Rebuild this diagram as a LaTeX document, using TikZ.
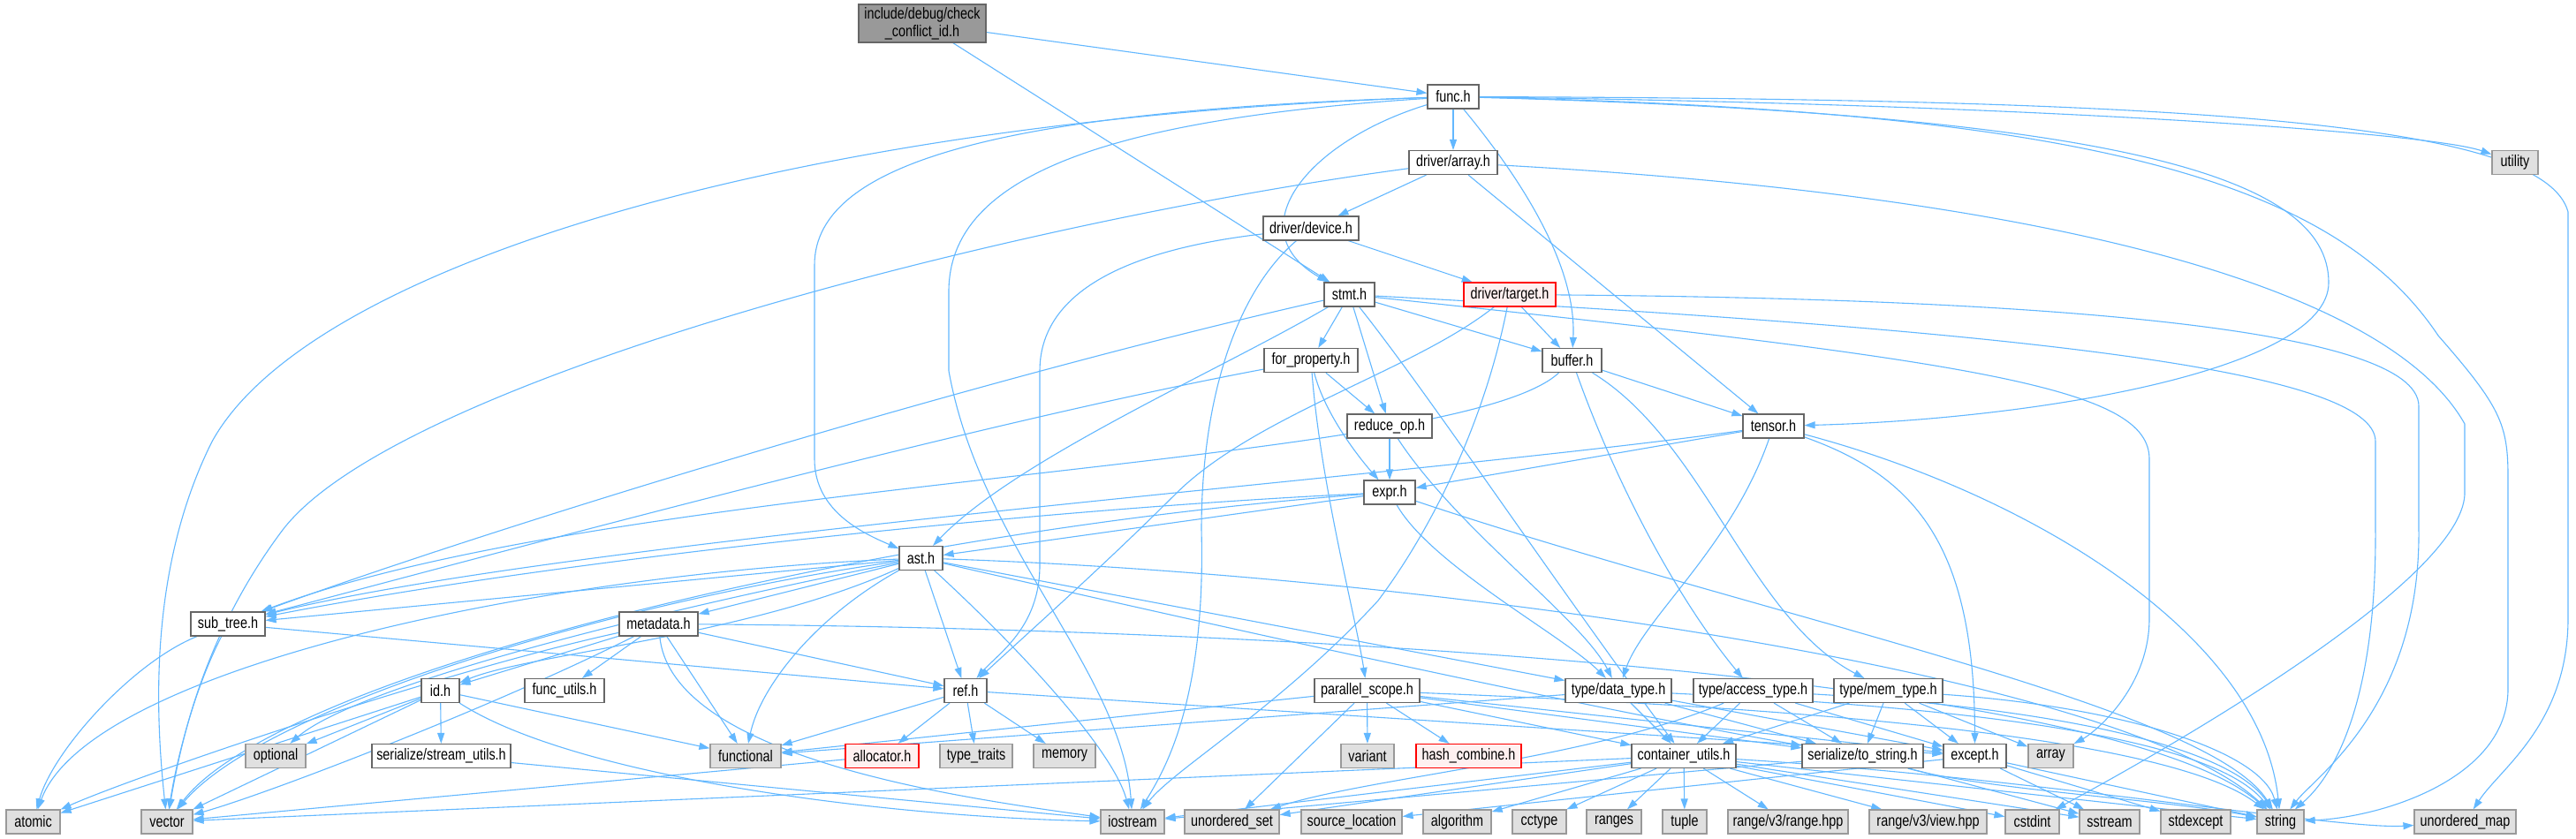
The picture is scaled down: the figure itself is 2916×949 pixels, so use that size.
\documentclass[tikz,border=0pt]{standalone}
\usepackage{fontspec}
\setmainfont{Liberation Sans}[FakeStretch=0.8]
\usetikzlibrary{arrows.meta}
\definecolor{edgec}{HTML}{63B8FF}
\definecolor{projc}{HTML}{666666}
\definecolor{sysc}{HTML}{999999}
\definecolor{sysfill}{HTML}{E0E0E0}
\definecolor{truncfill}{HTML}{FFF0F0}
\definecolor{rootfill}{HTML}{999999}
\pgfdeclarelayer{bg}
\pgfsetlayers{bg,main}
\begin{document}
\begin{tikzpicture}[x=0.5pt,y=-0.5pt,
 box/.style={draw, rectangle, line width=0.6pt, inner sep=0pt, minimum height=13.5pt, font=\fontsize{9}{10}\selectfont, text=black},
 proj/.style={box, draw=projc, fill=white},
 sys/.style={box, draw=sysc, fill=sysfill},
 trunc/.style={box, draw=red, fill=truncfill},
 root/.style={box, draw=projc, fill=rootfill, minimum height=21.5pt, align=center},
 dep/.style={draw=edgec, line width=0.55pt, -{Triangle[length=6pt,width=4pt]}}]
\useasboundingbox (0,0) rectangle (2916,949);
\begin{pgfonlayer}{bg}
\fill[white] (0,0) rectangle (2916,949);
\end{pgfonlayer}
% nodes
\node[root, minimum width=72pt] (ccid) at (1044,26.5) {include/debug/check\\\_conflict\_id.h};
\node[proj, minimum width=29pt] (func) at (1645,109.5) {func.h};
\node[proj, minimum width=50pt] (array) at (1645,184) {driver/array.h};
\node[sys, minimum width=26pt] (utility) at (2847,184) {utility};
\node[proj, minimum width=54pt] (device) at (1484,258.5) {driver/device.h};
\node[proj, minimum width=28.5pt] (stmt) at (1527.5,333.5) {stmt.h};
\node[trunc, minimum width=52pt] (target) at (1709,333.5) {driver/target.h};
\node[proj, minimum width=53pt] (forp) at (1484,408) {for\_property.h};
\node[proj, minimum width=33.5pt] (buffer) at (1779.5,408) {buffer.h};
\node[proj, minimum width=48pt] (reduce) at (1573,482.5) {reduce\_op.h};
\node[proj, minimum width=34.5pt] (tensor) at (2007.5,482.5) {tensor.h};
\node[proj, minimum width=29pt] (expr) at (1573,557.5) {expr.h};
\node[proj, minimum width=24.5pt] (ast) at (1042.5,632) {ast.h};
\node[proj, minimum width=42pt] (subtree) at (258,706.5) {sub\_tree.h};
\node[proj, minimum width=44.5pt] (metadata) at (745.5,706.5) {metadata.h};
\node[proj, minimum width=21.5pt] (id) at (498.5,782) {id.h};
\node[proj, minimum width=45pt] (funcutils) at (639,782) {func\_utils.h};
\node[proj, minimum width=24pt] (ref) at (1093,782) {ref.h};
\node[proj, minimum width=59.5pt] (pscope) at (1547.5,782) {parallel\_scope.h};
\node[proj, minimum width=60pt] (dtype) at (1832,782) {type/data\_type.h};
\node[proj, minimum width=67.5pt] (atype) at (1984.5,782) {type/access\_type.h};
\node[proj, minimum width=61.5pt] (mtype) at (2137.5,782) {type/mem\_type.h};
\node[sys, minimum width=34pt] (optional) at (312,856) {optional};
\node[proj, minimum width=78.5pt] (streamutils) at (499.5,856) {serialize/stream\_utils.h};
\node[sys, minimum width=40pt] (functional) at (844,856) {functional};
\node[trunc, minimum width=41.5pt] (allocator) at (998.5,856) {allocator.h};
\node[sys, minimum width=41pt] (typetraits) at (1105,856) {type\_traits};
\node[sys, minimum width=35pt] (memory) at (1205,856) {memory};
\node[sys, minimum width=30pt] (variant) at (1548,856) {variant};
\node[trunc, minimum width=59.5pt] (hashcombine) at (1662.5,856) {hash\_combine.h};
\node[proj, minimum width=59pt] (cutils) at (1906,856) {container\_utils.h};
\node[proj, minimum width=68.5pt] (tostring) at (2108.5,856) {serialize/to\_string.h};
\node[proj, minimum width=35.5pt] (except) at (2235.5,856) {except.h};
\node[sys, minimum width=25.5pt] (arraystd) at (2321.5,856) {array};
\node[sys, minimum width=30.5pt] (atomic) at (37.5,930.5) {atomic};
\node[sys, minimum width=29pt] (vector) at (189,930.5) {vector};
\node[sys, minimum width=36pt] (iostream) at (1282,930.5) {iostream};
\node[sys, minimum width=53.5pt] (uset) at (1394.5,930.5) {unordered\_set};
\node[sys, minimum width=57pt] (srcloc) at (1530,930.5) {source\_location};
\node[sys, minimum width=38.5pt] (algorithm) at (1649.5,930.5) {algorithm};
\node[sys, minimum width=30.5pt] (cctype) at (1742.5,930.5) {cctype};
\node[sys, minimum width=31pt] (ranges) at (1827,930.5) {ranges};
\node[sys, minimum width=25pt] (tuple) at (1907,930.5) {tuple};
\node[sys, minimum width=68pt] (rangehpp) at (2024,930.5) {range/v3/range.hpp};
\node[sys, minimum width=66.5pt] (viewhpp) at (2182.5,930.5) {range/v3/view.hpp};
\node[sys, minimum width=30.5pt] (cstdint) at (2300.5,930.5) {cstdint};
\node[sys, minimum width=34pt] (sstream) at (2388,930.5) {sstream};
\node[sys, minimum width=39.5pt] (stdexcept) at (2485.5,930.5) {stdexcept};
\node[sys, minimum width=26.5pt] (string) at (2581.5,930.5) {string};
\node[sys, minimum width=57.5pt] (umap) at (2790.5,930.5) {unordered\_map};
% edges
\begin{pgfonlayer}{bg}
\draw[dep] (ccid) -- (func);
\draw[dep] (ccid) -- (stmt);
% func
\draw[dep] (func) -- (array);
\draw[dep] (func) .. controls (2300,118) and (2750,150) .. (utility);
\draw[dep] (func) .. controls (2500,112) and (2880,140) .. (2907,240) -- (2907,700) .. controls (2907,820) and (2830,870) .. (umap);
\draw[dep] (func) .. controls (2350,125) and (2640,200) .. (2760,380) .. controls (2830,460) and (2839,480) .. (2839,540) -- (2839,780) .. controls (2839,880) and (2700,925) .. (string);
\draw[dep] (func) .. controls (2400,130) and (2636,200) .. (2636,320) .. controls (2636,420) and (2300,475) .. (tensor);
\draw[dep] (func) .. controls (1720,200) and (1785,300) .. (buffer);
\draw[dep] (func) .. controls (1480,160) and (1400,260) .. (stmt);
\draw[dep] (func) .. controls (1150,125) and (922,180) .. (922,300) -- (922,520) .. controls (922,580) and (980,605) .. (ast);
\draw[dep] (func) .. controls (1250,135) and (1074,200) .. (1074,330) -- (1074,420) .. controls (1110,620) and (1270,760) .. (iostream);
\draw[dep] (func) .. controls (900,135) and (350,300) .. (240,500) .. controls (170,640) and (175,800) .. (vector);
% array
\draw[dep] (array) -- (device);
\draw[dep] (array) -- (tensor);
\draw[dep] (array) .. controls (1150,250) and (450,430) .. (320,600) .. controls (230,720) and (205,840) .. (vector);
\draw[dep] (array) .. controls (2300,220) and (2700,320) .. (2790,480) -- (2790,560) .. controls (2785,660) and (2450,850) .. (cstdint);
% device
\draw[dep] (device) -- (target);
\draw[dep] (device) .. controls (1300,280) and (1177,320) .. (1177,420) -- (1177,640) .. controls (1177,710) and (1130,740) .. (ref);
\draw[dep] (device) .. controls (1400,330) and (1360,450) .. (1360,600) .. controls (1365,790) and (1320,870) .. (iostream);
% target
\draw[dep] (target) -- (buffer);
\draw[dep] (target) .. controls (1600,420) and (1420,470) .. (1330,560) .. controls (1250,640) and (1160,720) .. (ref);
\draw[dep] (target) .. controls (2300,338) and (2738,370) .. (2738,460) -- (2738,600) .. controls (2740,800) and (2620,880) .. (string);
\draw[dep] (target) .. controls (1680,480) and (1620,600) .. (1560,680) .. controls (1450,800) and (1330,870) .. (iostream);
% stmt
\draw[dep] (stmt) -- (forp);
\draw[dep] (stmt) -- (reduce);
\draw[dep] (stmt) -- (buffer);
\draw[dep] (stmt) .. controls (1380,420) and (1150,520) .. (ast);
\draw[dep] (stmt) .. controls (1100,430) and (550,600) .. (subtree);
\draw[dep] (stmt) .. controls (2300,375) and (2689,420) .. (2689,500) -- (2689,600) .. controls (2690,800) and (2640,880) .. (string);
\draw[dep] (stmt) .. controls (2250,410) and (2433,440) .. (2433,520) -- (2433,700) .. controls (2433,780) and (2370,830) .. (arraystd);
\draw[dep] (stmt) .. controls (1620,450) and (1760,660) .. (cutils);
% for_property
\draw[dep] (forp) -- (reduce);
\draw[dep] (forp) .. controls (1500,470) and (1540,520) .. (expr);
\draw[dep] (forp) .. controls (1495,550) and (1535,700) .. (pscope);
\draw[dep] (forp) .. controls (1100,480) and (550,630) .. (subtree);
% buffer
\draw[dep] (buffer) -- (tensor);
\draw[dep] (buffer) .. controls (1830,550) and (1900,680) .. (atype);
\draw[dep] (buffer) .. controls (1930,500) and (1980,700) .. (mtype);
\draw[dep] (buffer) .. controls (1650,530) and (700,540) .. (subtree);
% reduce_op
\draw[dep] (reduce) -- (expr);
\draw[dep] (reduce) .. controls (1650,600) and (1790,700) .. (dtype);
% tensor
\draw[dep] (tensor) -- (expr);
\draw[dep] (tensor) .. controls (1600,540) and (650,610) .. (subtree);
\draw[dep] (tensor) .. controls (1960,620) and (1860,700) .. (dtype);
\draw[dep] (tensor) .. controls (2170,540) and (2235,620) .. (except);
\draw[dep] (tensor) .. controls (2300,560) and (2560,720) .. (string);
% expr
\draw[dep] (expr) -- (ast);
\draw[dep] (expr) .. controls (1200,575) and (650,630) .. (subtree);
\draw[dep] (expr) .. controls (1000,600) and (320,760) .. (vector);
\draw[dep] (expr) .. controls (1620,640) and (1770,720) .. (dtype);
\draw[dep] (expr) .. controls (2000,700) and (2500,800) .. (string);
% ast
\draw[dep] (ast) -- (subtree);
\draw[dep] (ast) -- (metadata);
\draw[dep] (ast) .. controls (850,720) and (600,740) .. (id);
\draw[dep] (ast) -- (ref);
\draw[dep] (ast) .. controls (920,700) and (860,780) .. (functional);
\draw[dep] (ast) .. controls (1160,740) and (1260,850) .. (iostream);
\draw[dep] (ast) .. controls (700,680) and (300,800) .. (vector);
\draw[dep] (ast) .. controls (600,650) and (100,760) .. (atomic);
\draw[dep] (ast) .. controls (1600,650) and (2400,760) .. (string);
\draw[dep] (ast) -- (dtype);
\draw[dep] (ast) .. controls (1600,760) and (1900,820) .. (tostring);
\draw[dep] (ast) .. controls (700,700) and (400,780) .. (optional);
% metadata
\draw[dep] (metadata) -- (id);
\draw[dep] (metadata) -- (funcutils);
\draw[dep] (metadata) -- (ref);
\draw[dep] (metadata) -- (functional);
\draw[dep] (metadata) .. controls (760,860) and (1100,905) .. (iostream);
\draw[dep] (metadata) .. controls (560,800) and (300,900) .. (vector);
\draw[dep] (metadata) .. controls (500,760) and (150,880) .. (atomic);
\draw[dep] (metadata) .. controls (1500,712) and (2400,770) .. (string);
% id
\draw[dep] (id) -- (atomic);
\draw[dep] (id) -- (optional);
\draw[dep] (id) -- (streamutils);
\draw[dep] (id) -- (functional);
\draw[dep] (id) .. controls (650,880) and (1000,925) .. (iostream);
\draw[dep] (id) -- (vector);
% stream_utils
\draw[dep] (streamutils) -- (iostream);
% sub_tree
\draw[dep] (subtree) -- (ref);
\draw[dep] (subtree) .. controls (150,750) and (60,850) .. (atomic);
\draw[dep] (subtree) .. controls (220,780) and (200,860) .. (vector);
% ref
\draw[dep] (ref) -- (allocator);
\draw[dep] (ref) -- (typetraits);
\draw[dep] (ref) -- (memory);
\draw[dep] (ref) -- (functional);
\draw[dep] (ref) -- (except);
% allocator
\draw[dep] (allocator) -- (vector);
% parallel_scope
\draw[dep] (pscope) -- (variant);
\draw[dep] (pscope) -- (hashcombine);
\draw[dep] (pscope) -- (functional);
\draw[dep] (pscope) -- (uset);
\draw[dep] (pscope) -- (tostring);
\draw[dep] (pscope) -- (cutils);
\draw[dep] (pscope) -- (except);
\draw[dep] (pscope) .. controls (2000,800) and (2450,830) .. (string);
% data_type
\draw[dep] (dtype) -- (cutils);
\draw[dep] (dtype) -- (tostring);
\draw[dep] (dtype) -- (except);
\draw[dep] (dtype) .. controls (2200,800) and (2500,830) .. (string);
\draw[dep] (dtype) -- (functional);
% access_type
\draw[dep] (atype) -- (cutils);
\draw[dep] (atype) -- (tostring);
\draw[dep] (atype) -- (except);
\draw[dep] (atype) .. controls (2300,800) and (2520,840) .. (string);
\draw[dep] (atype) .. controls (1800,860) and (1550,880) .. (uset);
% mem_type
\draw[dep] (mtype) -- (cutils);
\draw[dep] (mtype) -- (tostring);
\draw[dep] (mtype) -- (except);
\draw[dep] (mtype) -- (arraystd);
\draw[dep] (mtype) .. controls (2400,800) and (2560,850) .. (string);
% container_utils
\draw[dep] (cutils) -- (vector);
\draw[dep] (cutils) -- (iostream);
\draw[dep] (cutils) -- (uset);
\draw[dep] (cutils) -- (algorithm);
\draw[dep] (cutils) -- (cctype);
\draw[dep] (cutils) -- (ranges);
\draw[dep] (cutils) -- (tuple);
\draw[dep] (cutils) -- (rangehpp);
\draw[dep] (cutils) -- (viewhpp);
\draw[dep] (cutils) -- (cstdint);
\draw[dep] (cutils) -- (sstream);
\draw[dep] (cutils) -- (string);
\draw[dep] (cutils) .. controls (2300,880) and (2650,940) .. (umap);
% to_string
\draw[dep] (tostring) .. controls (2250,895) and (2450,905) .. (string);
\draw[dep] (tostring) -- (sstream);
\draw[dep] (tostring) -- (iostream);
% except
\draw[dep] (except) -- (srcloc);
\draw[dep] (except) -- (sstream);
\draw[dep] (except) -- (stdexcept);
\draw[dep] (except) -- (string);
\end{pgfonlayer}
\end{tikzpicture}
\end{document}
